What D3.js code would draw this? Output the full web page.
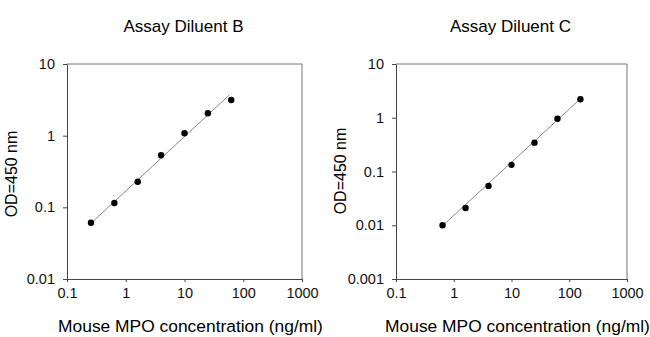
<!DOCTYPE html>
<html>
<head>
<meta charset="utf-8">
<script src="https://cdn.jsdelivr.net/npm/d3@7"></script>
<style>
  body { margin: 0; background: #fff; }
  svg { display: block; font-family: "Liberation Sans", Arial, sans-serif; }
  .tick text { font-size: 14.5px; fill: #111; }
</style>
</head>
<body>
<svg width="650" height="337"></svg>
<script>
/* standard concentrations (ng/ml) and OD readings */
var concB = [0.256, 0.64, 1.6, 4, 10, 25, 62.5];
var odB = [0.061, 0.115, 0.228, 0.533, 1.08, 2.05, 3.15];
var fitXB = [0.24, 58];
var fitYB = [0.057, 3.7];

var concC = [0.64, 1.6, 4, 10, 25, 62.5, 156];
var odC = [0.010, 0.021, 0.054, 0.133, 0.344, 0.96, 2.21];
var fitXC = [0.64, 156];
var fitYC = [0.0098, 2.25];

var xTicks = [0.1, 1, 10, 100, 1000];
var yTicksB = [0.01, 0.1, 1, 10];
var yTicksC = [0.001, 0.01, 0.1, 1, 10];

var svg = d3.select("svg");

/* one panel = frame + axes + fit line + dots */
function panel(p) {
  var x = d3.scaleLog().domain([0.1, 1000]).range([p.left, p.right]);
  var y = d3.scaleLog().domain(p.yDomain).range([p.bottom, p.top]);
  var g = svg.append("g");

  // light top/right frame
  g.append("path")
      .attr("d", "M" + p.left + "," + p.top + "H" + p.right + "V" + p.bottom)
      .attr("fill", "none").attr("stroke", "#777").attr("stroke-width", 1);

  var fmt = function(d) { return String(d); };

  g.append("g")
      .attr("transform", "translate(0," + p.bottom + ")")
      .call(d3.axisBottom(x).tickValues(xTicks).tickFormat(fmt).tickSizeOuter(0).tickSizeInner(3).tickPadding(6))
      .call(function(a) { a.select(".domain").attr("stroke", "#444"); a.selectAll(".tick line").attr("stroke", "#444"); });

  g.append("g")
      .attr("transform", "translate(" + p.left + ",0)")
      .call(d3.axisLeft(y).tickValues(p.yTicks).tickFormat(fmt).tickSizeOuter(0).tickSizeInner(4).tickPadding(8))
      .call(function(a) { a.select(".domain").attr("stroke", "#444"); a.selectAll(".tick line").attr("stroke", "#444"); });

  var pts = p.fitX.map(function(d, i) { return [d, p.fitY[i]]; });
  g.append("path")
      .datum(pts)
      .attr("d", d3.line().x(function(d) { return x(d[0]); }).y(function(d) { return y(d[1]); }))
      .attr("fill", "none").attr("stroke", "#888").attr("stroke-width", 1);

  g.selectAll(".dot")
      .data(p.conc)
      .enter().append("circle")
      .attr("class", "dot")
      .attr("cx", function(d) { return x(d); })
      .attr("cy", function(d, i) { return y(p.od[i]); })
      .attr("r", 3.2)
      .attr("fill", "#000");

  g.append("text")
      .attr("x", (p.left + p.right) / 2 - 1)
      .attr("y", 32)
      .attr("text-anchor", "middle")
      .style("font-size", "17px")
      .text(p.title);

  g.append("text")
      .attr("x", (p.left + p.right) / 2 + 6)
      .attr("y", 332)
      .attr("text-anchor", "middle")
      .style("font-size", "17.4px")
      .text("Mouse MPO concentration (ng/ml)");

  g.append("text")
      .attr("transform", "translate(" + (p.left - 50) + "," + p.yLabelY + ") rotate(-90)")
      .attr("text-anchor", "middle")
      .style("font-size", "16px")
      .text("OD=450 nm");
}

panel({ title: "Assay Diluent B", left: 67, right: 302, top: 64, bottom: 279,
        yDomain: [0.01, 10], yTicks: yTicksB, conc: concB, od: odB,
        fitX: fitXB, fitY: fitYB, yLabelY: 174 });

panel({ title: "Assay Diluent C", left: 396, right: 627, top: 64, bottom: 279,
        yDomain: [0.001, 10], yTicks: yTicksC, conc: concC, od: odC,
        fitX: fitXC, fitY: fitYC, yLabelY: 171 });
</script>
</body>
</html>
